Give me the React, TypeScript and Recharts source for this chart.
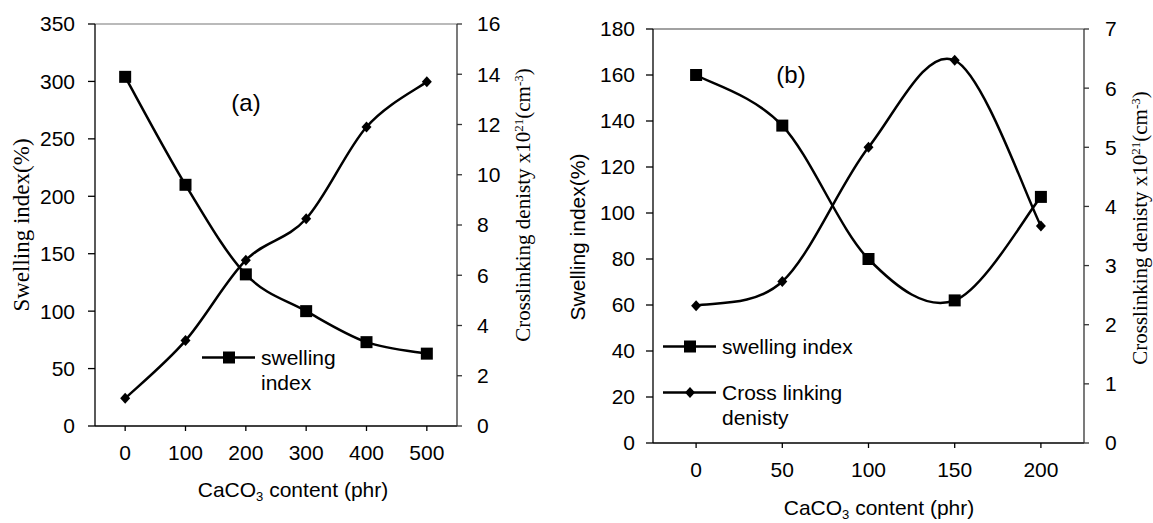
import React from 'react';
import { LineChart, Line, XAxis, YAxis, ReferenceLine } from 'recharts';

// panel (a)
const contentA = [0, 100, 200, 300, 400, 500];
const swellingA = [304, 210, 132, 100, 73, 63];
const crosslinkA = [1.1, 3.4, 6.6, 8.25, 11.9, 13.7];
const leftTicksA = [0, 50, 100, 150, 200, 250, 300, 350];
const rightTicksA = [0, 2, 4, 6, 8, 10, 12, 14, 16];

// panel (b)
const contentB = [0, 50, 100, 150, 200];
const swellingB = [160, 138, 80, 62, 107];
const crosslinkB = [2.32, 2.73, 5.0, 6.47, 3.67];
const leftTicksB = [0, 20, 40, 60, 80, 100, 120, 140, 160, 180];
const rightTicksB = [0, 1, 2, 3, 4, 5, 6, 7];

const SANS = 'Liberation Sans, Arial, sans-serif';
const SERIF = 'Liberation Serif, Times New Roman, serif';

// Excel-like smoothed line (Catmull-Rom through the points)
const smoothCurve = (context: any) => {
  let pts: number[][] = [];
  return {
    areaStart() {},
    areaEnd() {},
    lineStart() { pts = []; },
    point(x: number, y: number) { pts.push([+x, +y]); },
    lineEnd() {
      if (!pts.length) return;
      context.moveTo(pts[0][0], pts[0][1]);
      for (let i = 0; i < pts.length - 1; i++) {
        const p0 = pts[Math.max(i - 1, 0)];
        const p1 = pts[i];
        const p2 = pts[i + 1];
        const p3 = pts[Math.min(i + 2, pts.length - 1)];
        context.bezierCurveTo(
          p1[0] + (p2[0] - p0[0]) / 6, p1[1] + (p2[1] - p0[1]) / 6,
          p2[0] - (p3[0] - p1[0]) / 6, p2[1] - (p3[1] - p1[1]) / 6,
          p2[0], p2[1]
        );
      }
    },
  };
};

const squareDot = (p: any) => (
  <rect key={`sq-${p.index}`} x={p.cx - 6} y={p.cy - 6} width={12} height={12} fill="#000" />
);
const diamondDot = (p: any) => (
  <polygon key={`dm-${p.index}`} points={`${p.cx},${p.cy - 5.5} ${p.cx + 5},${p.cy} ${p.cx},${p.cy + 5.5} ${p.cx - 5},${p.cy}`} fill="#000" />
);

const LegendIcon = ({ shape }: { shape: 'square' | 'diamond' }) => (
  <svg width={54} height={25} style={{ flex: 'none' }}>
    <line x1={0} y1={12.5} x2={53} y2={12.5} stroke="#000" strokeWidth={2.5} />
    {shape === 'square'
      ? <rect x={21} y={6.5} width={12} height={12} fill="#000" />
      : <polygon points="27,7 32,12.5 27,18 22,12.5" fill="#000" />}
  </svg>
);

const legendText = { font: `21px ${SANS}`, lineHeight: '25px', color: '#000' };

const LegendA = () => (
  <div style={{ position: 'absolute', left: 202, top: 344.5, display: 'flex', alignItems: 'flex-start', ...legendText }}>
    <LegendIcon shape="square" />
    <div style={{ marginLeft: 5 }}>swelling<br />index</div>
  </div>
);

const LegendB = () => (
  <div style={{ position: 'absolute', left: 83, top: 333.5, ...legendText }}>
    <div style={{ display: 'flex', alignItems: 'flex-start' }}>
      <LegendIcon shape="square" />
      <div style={{ marginLeft: 5, whiteSpace: 'nowrap' }}>swelling index</div>
    </div>
    <div style={{ display: 'flex', alignItems: 'flex-start', marginTop: 21 }}>
      <LegendIcon shape="diamond" />
      <div style={{ marginLeft: 5, whiteSpace: 'nowrap' }}>Cross linking<br />denisty</div>
    </div>
  </div>
);

const tick = { fill: '#000', fontSize: 21, fontFamily: SANS };

const Txt = ({ x, y, rotate, font, size, children }: any) => (
  <div
    style={{
      position: 'absolute', left: x, top: y, whiteSpace: 'nowrap',
      transform: `translate(-50%, -50%)${rotate ? ' rotate(-90deg)' : ''}`,
      fontFamily: font, fontSize: size, color: '#000', lineHeight: 1,
    }}
  >
    {children}
  </div>
);

const sup = { fontSize: '0.62em', verticalAlign: '0.55em' };
const sub = { fontSize: '0.62em', verticalAlign: '-0.3em' };

export default function App() {
  const dataA = contentA.map((x, i) => ({ x, swelling: swellingA[i], cross: crosslinkA[i] }));
  const dataB = contentB.map((x, i) => ({ x, swelling: swellingB[i], cross: crosslinkB[i] }));

  return (
    <div style={{ position: 'absolute', left: 0, top: 0, width: 1153, height: 523, background: '#fff', overflow: 'hidden' }}>
      <div style={{ position: 'absolute', left: 0, top: 0 }}>
        <LineChart width={580} height={523} data={dataA} margin={{ top: 24, right: 0, bottom: 0, left: 0 }}>
          <XAxis dataKey="x" type="number" domain={[-50, 550]} ticks={contentA} height={97}
            tick={tick} tickSize={5} tickMargin={14} stroke="#000" strokeWidth={1.3} />
          <YAxis yAxisId="left" domain={[0, 350]} ticks={leftTicksA} width={95}
            tick={tick} tickSize={7} tickMargin={13} stroke="#000" strokeWidth={1.3} />
          <YAxis yAxisId="right" orientation="right" domain={[0, 16]} ticks={rightTicksA} width={123}
            tick={tick} tickSize={5} tickMargin={15} stroke="#333" strokeWidth={1.3} />
          <ReferenceLine yAxisId="left" y={350} stroke="#777" strokeWidth={1.2} />
          <Line yAxisId="left" dataKey="swelling" type={smoothCurve as any} stroke="#000" strokeWidth={2.5}
            dot={squareDot} activeDot={false} isAnimationActive={false} />
          <Line yAxisId="right" dataKey="cross" type={smoothCurve as any} stroke="#000" strokeWidth={2.5}
            dot={diamondDot} activeDot={false} isAnimationActive={false} />
        </LineChart>
        <LegendA />
        <Txt x={21} y={225} rotate font={SERIF} size={23}>Swelling index(%)</Txt>
        <Txt x={523} y={205} rotate font={SERIF} size={21}>
          Crosslinking denisty x10<span style={sup}>21</span>(cm<span style={sup}>-3</span>)
        </Txt>
        <Txt x={293} y={491} font={SANS} size={21}>CaCO<span style={sub}>3</span> content (phr)</Txt>
        <Txt x={246} y={103} font={SANS} size={24}>(a)</Txt>
      </div>

      <div style={{ position: 'absolute', left: 580, top: 0 }}>
        <LineChart width={573} height={523} data={dataB} margin={{ top: 29, right: 0, bottom: 0, left: 0 }}>
          <XAxis dataKey="x" type="number" domain={[-25, 225]} ticks={contentB} height={80}
            tick={tick} tickSize={5} tickMargin={14} stroke="#000" strokeWidth={1.3} />
          <YAxis yAxisId="left" domain={[0, 180]} ticks={leftTicksB} width={73}
            tick={tick} tickSize={7} tickMargin={11} stroke="#000" strokeWidth={1.3} />
          <YAxis yAxisId="right" orientation="right" domain={[0, 7]} ticks={rightTicksB} width={69}
            tick={tick} tickSize={5} tickMargin={16} stroke="#333" strokeWidth={1.3} />
          <ReferenceLine yAxisId="left" y={180} stroke="#444" strokeWidth={1.2} />
          <Line yAxisId="left" dataKey="swelling" type={smoothCurve as any} stroke="#000" strokeWidth={2.5}
            dot={squareDot} activeDot={false} isAnimationActive={false} />
          <Line yAxisId="right" dataKey="cross" type={smoothCurve as any} stroke="#000" strokeWidth={2.5}
            dot={diamondDot} activeDot={false} isAnimationActive={false} />
        </LineChart>
        <LegendB />
        <Txt x={-3} y={237} rotate font={SANS} size={21}>Swelling index(%)</Txt>
        <Txt x={560} y={228} rotate font={SERIF} size={21}>
          Crosslinking denisty x10<span style={sup}>21</span>(cm<span style={sup}>-3</span>)
        </Txt>
        <Txt x={299} y={509} font={SANS} size={21}>CaCO<span style={sub}>3</span> content (phr)</Txt>
        <Txt x={211} y={75} font={SANS} size={24}>(b)</Txt>
      </div>
    </div>
  );
}
